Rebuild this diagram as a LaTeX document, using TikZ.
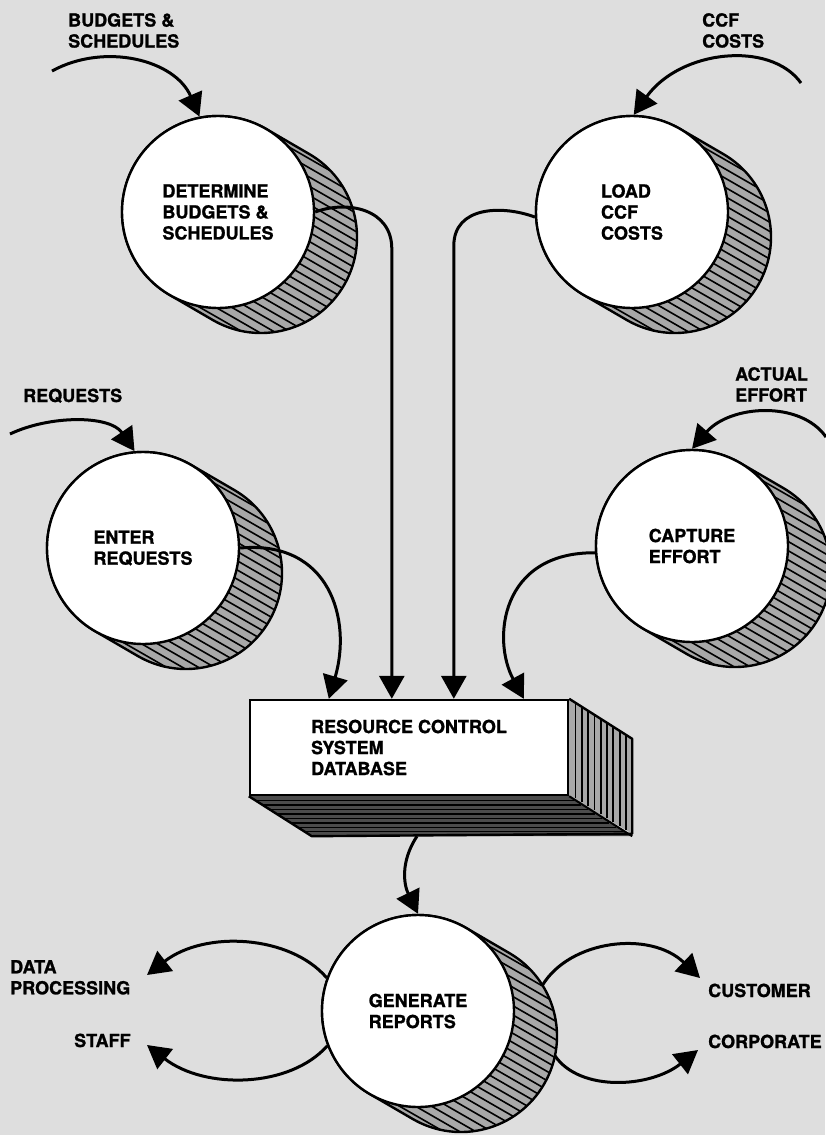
\documentclass[tikz,border=0pt]{standalone}
\usepackage{fontspec}
\setmainfont{TeX Gyre Heros}[BoldFeatures={FakeBold=1.2}]
\usetikzlibrary{arrows.meta,calc}
\pgfdeclarelayer{bglayer}
\pgfdeclarelayer{shade}
\pgfsetlayers{bglayer,shade,main}
\definecolor{bgcol}{gray}{0.87}
\definecolor{shadegray}{gray}{0.66}
\definecolor{darkface}{gray}{0.30}
\tikzset{
  txt/.style={font=\bfseries\fontsize{18}{21}\selectfont},
  proc/.style={circle, draw=black, line width=2.4pt, fill=white, minimum size=192pt,
    inner sep=0pt, align=left, txt},
  shadowc/.style={circle, minimum size=192pt, inner sep=0pt},
  dbbox/.style={rectangle, draw=black, line width=2.4pt, fill=white, minimum width=318pt,
    minimum height=95pt, inner sep=0pt, align=left, txt},
  lbl/.style={align=left, inner sep=0pt, txt},
  flow/.style={line width=3pt, -{Triangle[length=23pt,width=25pt]}},
  hatch/.style={line width=1.6pt},
}
\newcommand\procshadow[2]{%
  \node[shadowc] (#2) at ($(#1.center)+(43,25)$) {};
  \begin{pgfonlayer}{shade}
    \begin{scope}
      \clip (#1.center) ++(-60:96) -- ++(43,25) arc[start angle=-60,end angle=120,radius=96]
        -- ++(-43,-25) arc[start angle=120,end angle=300,radius=96] -- cycle;
      \fill[shadegray] ($(#1.center)+(-200,-200)$) rectangle ++(400,400);
      \foreach \k in {-40,...,15}
        \draw[hatch] ($(#1.center)+(-200,\k*9.2)$) -- ++(400,230);
    \end{scope}
    \draw[line width=2.4pt] (#1.center) ++(-60:96) -- ++(43,25) arc[start angle=-60,end angle=120,radius=96]
        -- ++(-43,-25) arc[start angle=120,end angle=300,radius=96] -- cycle;
  \end{pgfonlayer}}
\begin{document}
\begin{tikzpicture}[x=1pt,y=-1pt]
\useasboundingbox (0,0) rectangle (825,1135);
\begin{pgfonlayer}{bglayer}
  \fill[bgcol] (0,0) rectangle (825,1135);
\end{pgfonlayer}

% process bubbles
\node[proc] (det) at (218,212) {DETERMINE\\BUDGETS \&\\SCHEDULES};
\node[proc] (load) at (632,212) {LOAD\\CCF\\COSTS};
\node[proc] (enter) at (143,548) {ENTER\\REQUESTS};
\node[proc] (capture) at (692,546) {CAPTURE\\EFFORT};
\node[proc] (gen) at (418,1011) {GENERATE\\REPORTS};
\procshadow{det}{detS}
\procshadow{load}{loadS}
\procshadow{enter}{enterS}
\procshadow{capture}{captureS}
\procshadow{gen}{genS}

% database box
\node[dbbox] (db) at (409,747.5) {RESOURCE CONTROL\\SYSTEM\\DATABASE};
\begin{pgfonlayer}{shade}
  \fill[shadegray] (db.north east) -- ++(63,40) -- ++(0,95) -- (db.south east) -- cycle;
  \foreach \k in {1,...,10}
    \draw[line width=1.8pt] ($(db.north east)+(\k*6.3,\k*4)$) -- ++(0,95);
  \fill[darkface] (db.south west) -- (db.south east) -- ++(63,40) -- ($(db.south west)+(63,40)$) -- cycle;
  \foreach \j in {1,...,8}
    \draw[line width=1.5pt] ($(db.south west)+(\j*7.0,\j*4.44)$) -- ++(318,0);
  \draw[line width=2.4pt, line join=round] (db.north east) -- ++(63,40) -- ++(0,95)
     -- ($(db.south west)+(63,40)$) -- (db.south west);
  \draw[line width=2pt] (db.south east) -- ++(63,40);
\end{pgfonlayer}

% labels
\node[lbl, anchor=north west] (lBud) at (68,13) {BUDGETS \&\\SCHEDULES};
\node[lbl, anchor=north west] (lCCF) at (702,13) {CCF\\COSTS};
\node[lbl, anchor=base west] (lReq) at (23,402) {REQUESTS};
\node[lbl, anchor=north west] (lAct) at (735,367) {ACTUAL\\EFFORT};
\node[lbl, anchor=north west] (lDP) at (10,960) {DATA\\PROCESSING};
\node[lbl, anchor=base west] (lStaff) at (74,1047) {STAFF};
\node[lbl, anchor=base west] (lCust) at (708,997) {CUSTOMER};
\node[lbl, anchor=base west] (lCorp) at (708,1048) {CORPORATE};

% connector end points
\coordinate (sBud) at (52,71);
\coordinate (sCCF) at (801,83);
\coordinate (sReq) at (10,434);
\coordinate (sAct) at (826,437);
\coordinate (tEnter) at ($(db.north west)+(80,0)$);
\coordinate (tDet) at ($(db.north west)+(143,0)$);
\coordinate (tLoad) at ($(db.north west)+(205,0)$);
\coordinate (tCap) at ($(db.north west)+(275,0)$);
\coordinate (dbOut) at ($(db.south)+(8,40)$);
\coordinate (tDP) at (147,975);
\coordinate (tStaff) at (147,1045);
\coordinate (tCust) at (700,978);
\coordinate (tCorp) at (698,1050);

% inputs
\draw[flow] (sBud) .. controls (105,42) and (175,60) .. (det.101);
\draw[flow] (sCCF) .. controls (770,40) and (680,50) .. (load.89);
\draw[flow] (sReq) .. controls (50,415) and (110,415) .. (enter.95);
\draw[flow] (sAct) .. controls (800,400) and (730,405) .. (capture.90);

% into database
\draw[flow] (enter.east) .. controls (330,540) and (352,620) .. (tEnter);
\draw[flow] (det.east) .. controls +(32,-12) and +(0,-40) .. ($(tDet)+(0,-450)$) -- (tDet);
\draw[flow] (load.183) .. controls +(-32,-12) and +(0,-40) .. ($(tLoad)+(0,-453)$) -- (tLoad);
\draw[flow] (capture.184) .. controls (500,552) and (492,640) .. (tCap);

% database to reports
\draw[flow] (dbOut) .. controls (400,862) and (404,885) .. (gen.north);

% outputs
\draw[flow] (gen.160) .. controls (290,935) and (205,930) .. (tDP);
\draw[flow] (gen.201) .. controls (290,1088) and (205,1090) .. (tStaff);
\draw[flow] (genS.32) .. controls (570,940) and (650,930) .. (tCust);
\draw[flow] (genS.-12) .. controls (580,1092) and (650,1088) .. (tCorp);
\end{tikzpicture}
\end{document}
